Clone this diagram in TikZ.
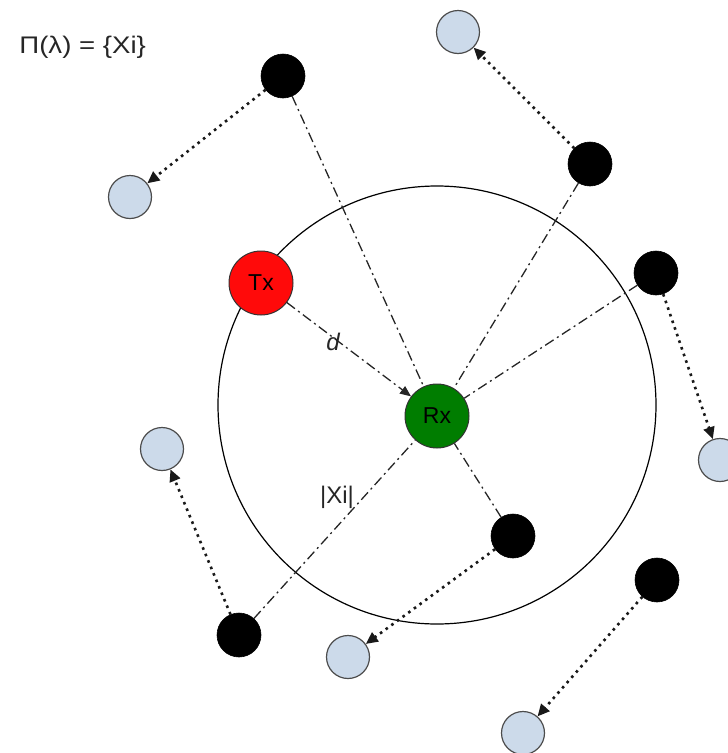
\documentclass[tikz,border=0pt]{standalone}
\usepackage{fontspec}
\setmainfont{Liberation Sans}
\usetikzlibrary{arrows.meta}
\definecolor{lightblue}{RGB}{204,218,234}
\definecolor{txred}{RGB}{255,10,10}
\definecolor{rxgreen}{RGB}{0,125,0}
\begin{document}
\begin{tikzpicture}[x=1pt,y=-1pt,
 bignode/.style={circle,draw=black!80,line width=1pt,minimum size=64pt,inner sep=0pt,font=\fontsize{23}{27}\selectfont},
 blacknode/.style={circle,fill=black,draw=black,line width=0.6pt,minimum size=44pt,inner sep=0pt},
 bluenode/.style={circle,fill=lightblue,draw=black!70,line width=1.2pt,minimum size=43pt,inner sep=0pt},
 link/.style={line width=1.3pt,draw=black!85,dash pattern=on 10pt off 4pt on 2pt off 4pt},
 move/.style={line width=2.6pt,draw=black!90,dash pattern=on 2.6pt off 4.4pt,-{Triangle[length=12pt,width=11pt]}},
 lab/.style={inner sep=1pt,text=black!85}
]
\clip (0,0) rectangle (728,753);
\useasboundingbox (0,0) rectangle (728,753);
% coverage area
\node[circle,draw=black,line width=1.2pt,minimum size=438pt,inner sep=0pt] (area) at (437,405) {};
% title
\node[lab,anchor=west,font=\fontsize{24}{28}\selectfont,xscale=1.15,transform shape] (title) at (18,47) {Π(λ) = \{Xi\}};
% main nodes
\node[bignode,fill=txred] (tx) at (261,283) {Tx};
\node[bignode,fill=rxgreen] (rx) at (437,416) {Rx};
% interferers
\node[blacknode] (b1) at (283,76) {};
\node[blacknode] (b2) at (590,164) {};
\node[blacknode] (b3) at (656,273) {};
\node[blacknode] (b4) at (513,536) {};
\node[blacknode] (b5) at (657,580) {};
\node[blacknode] (b6) at (239,635) {};
% moved positions
\node[bluenode] (l1) at (130,197) {};
\node[bluenode] (l2) at (458,32) {};
\node[bluenode] (l3) at (720,460) {};
\node[bluenode] (l4) at (162,449) {};
\node[bluenode] (l5) at (348,657) {};
\node[bluenode] (l6) at (523,733) {};
% distance links
\draw[link,-{Triangle[length=11pt,width=9pt]}] (tx) -- (rx);
\draw[link] (b1) -- (rx);
\draw[link] (b2) -- (rx);
\draw[link] (b3) -- (rx);
\draw[link] (b4) -- (rx);
\draw[link] (b6) -- (rx);
% movements
\draw[move] (b1) -- (l1);
\draw[move] (b2) -- (l2);
\draw[move] (b3) -- (l3);
\draw[move] (b6) -- (l4);
\draw[move] (b4) -- (l5);
\draw[move] (b5) -- (l6);
% labels
\node[lab,font=\fontsize{24}{28}\selectfont\itshape] (dlab) at (333,342) {d};
\node[lab,font=\fontsize{24}{28}\selectfont] (xlab) at (337,497) {|Xi|};
\end{tikzpicture}
\end{document}
